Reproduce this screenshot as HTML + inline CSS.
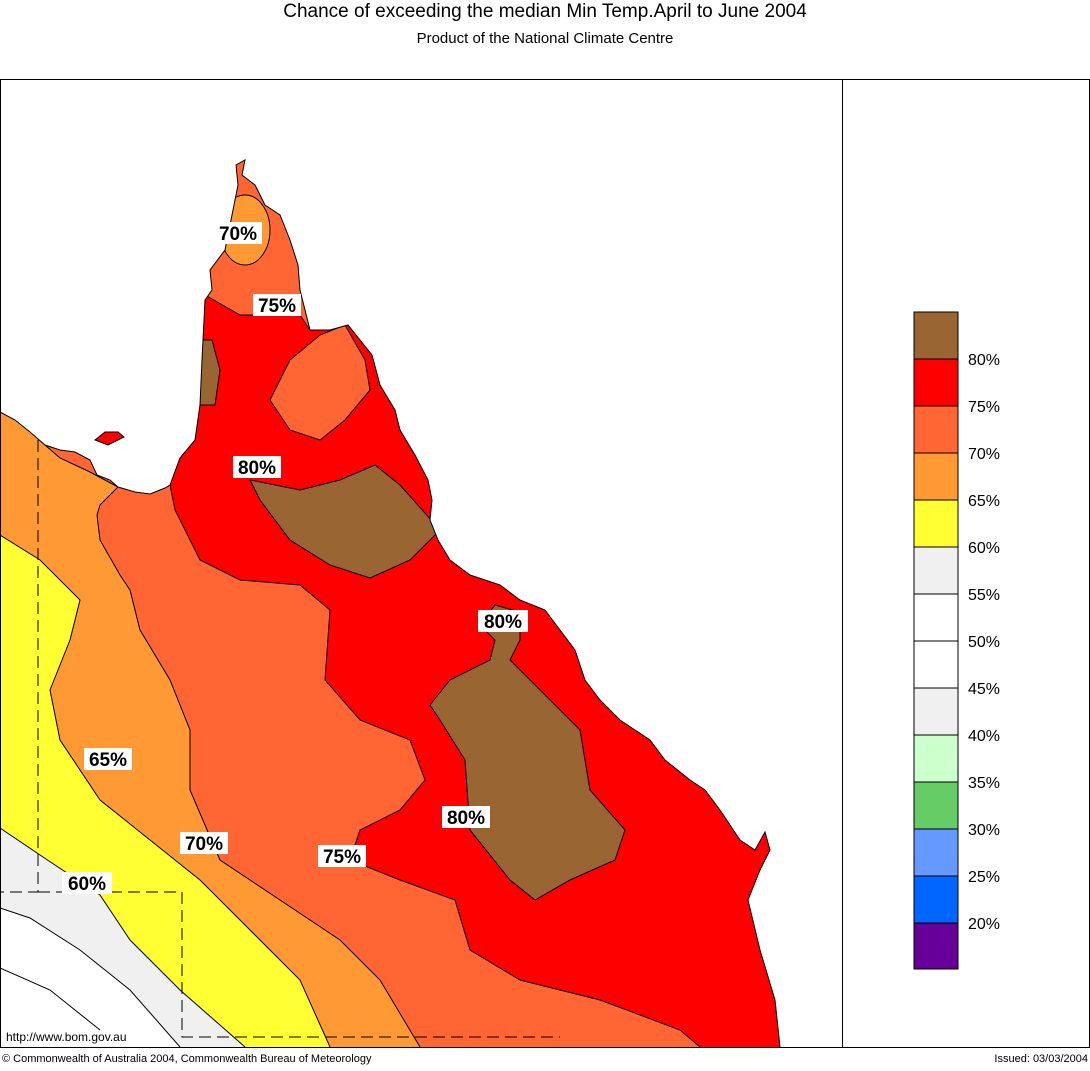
<!DOCTYPE html>
<html><head><meta charset="utf-8"><style>
body{margin:0;background:#fff;width:1090px;height:1066px;overflow:hidden;font-family:"Liberation Sans",sans-serif}
</style></head><body>
<svg width="1090" height="1066" xmlns="http://www.w3.org/2000/svg" font-family="Liberation Sans, sans-serif">
<text x="545" y="17" font-size="19" text-anchor="middle">Chance of exceeding the median Min Temp.April to June 2004</text>
<text x="545" y="43" font-size="15" text-anchor="middle">Product of the National Climate Centre</text>
<defs><clipPath id="land"><polygon points="0,412 15,420 30,432 45,445 60,450 75,452 90,460 97,475 110,480 118,487 135,492 150,494 165,488 170,485 180,458 195,440 200,405 202,360 205,300 212,290 210,270 225,250 232,215 238,185 236,165 245,160 242,175 255,185 265,205 280,215 290,240 298,265 300,290 305,310 310,330 330,330 348,325 360,340 372,355 380,385 395,410 400,430 415,455 428,480 432,500 430,520 438,540 450,560 470,575 500,585 520,600 545,610 560,630 575,650 585,680 600,700 620,720 650,740 665,760 690,780 705,790 720,810 740,840 755,850 765,832 770,850 760,870 748,900 760,950 775,1000 780,1047 0,1047"/></clipPath></defs>
<g clip-path="url(#land)" stroke="#000" stroke-width="1">
<rect x="0" y="100" width="842" height="960" fill="#ff0000" stroke="none"/>
<polygon stroke="none" fill="#ff6633" points="160,470 170,485 175,510 200,560 240,580 300,585 330,610 325,680 360,720 410,740 425,780 400,810 360,830 350,860 400,880 455,900 470,950 520,980 600,1000 680,1030 700,1047 0,1047 0,400"/>
<polygon stroke="none" fill="#ff9933" points="0,400 45,445 60,458 90,472 118,487 100,505 97,515 100,540 120,575 130,590 140,630 170,680 190,730 190,790 220,860 280,900 340,940 380,980 420,1047 0,1047"/>
<polygon stroke="none" fill="#ffff33" points="0,535 40,560 80,600 70,640 50,690 60,740 100,800 150,840 200,880 250,930 300,980 330,1047 0,1047"/>
<polygon stroke="none" fill="#f0f0f0" points="0,828 40,855 100,895 130,940 180,990 245,1047 0,1047"/>
<polygon stroke="none" fill="#fff" points="0,908 30,918 80,950 130,990 180,1047 0,1047"/>
<polyline fill="none" points="170,485 175,510 200,560 240,580 300,585 330,610 325,680 360,720 410,740 425,780 400,810 360,830 350,860 400,880 455,900 470,950 520,980 600,1000 680,1030 700,1047"/>
<polyline fill="none" points="45,445 60,458 90,472 118,487 100,505 97,515 100,540 120,575 130,590 140,630 170,680 190,730 190,790 220,860 280,900 340,940 380,980 420,1047"/>
<polyline fill="none" points="0,535 40,560 80,600 70,640 50,690 60,740 100,800 150,840 200,880 250,930 300,980 330,1047"/>
<polyline fill="none" points="0,828 40,855 100,895 130,940 180,990 245,1047"/>
<polyline fill="none" points="0,908 30,918 80,950 130,990 180,1047"/>
<polyline fill="none" points="0,968 50,990 100,1030"/>
<polygon fill="#ff6633" points="150,100 400,100 400,200 310,330 300,315 240,315 205,295 150,290"/>
<ellipse cx="245" cy="230" rx="25" ry="35" fill="#ff9933"/>
<polygon fill="#ff6633" points="270,400 290,360 320,335 345,325 365,360 370,390 345,420 320,440 290,430"/>
<polygon fill="#996633" points="190,340 212,340 220,370 215,405 190,405"/>
<polygon fill="#996633" points="250,480 300,490 340,480 375,465 400,485 440,530 410,560 370,578 330,565 290,540 260,500"/>
<polygon fill="#996633" points="495,605 520,612 520,640 510,660 540,690 580,730 590,790 625,830 615,860 570,880 535,900 510,880 470,830 465,760 440,720 430,705 450,680 490,660 495,640 480,625"/>
</g>
<polygon fill="#ff0000" stroke="#000" points="95,440 105,432 118,432 124,437 108,445"/>
<polyline fill="none" stroke="#000" points="0,412 15,420 30,432 45,445 60,450 75,452 90,460 97,475 110,480 118,487 135,492 150,494 165,488 170,485 180,458 195,440 200,405 202,360 205,300 212,290 210,270 225,250 232,215 238,185 236,165 245,160 242,175 255,185 265,205 280,215 290,240 298,265 300,290 305,310 310,330 330,330 348,325 360,340 372,355 380,385 395,410 400,430 415,455 428,480 432,500 430,520 438,540 450,560 470,575 500,585 520,600 545,610 560,630 575,650 585,680 600,700 620,720 650,740 665,760 690,780 705,790 720,810 740,840 755,850 765,832 770,850 760,870 748,900 760,950 775,1000 780,1047"/>
<g stroke="#000" stroke-dasharray="12,6" fill="none">
<polyline points="38,440 38,892 0,892"/><polyline points="38,892 182,892 182,1037 560,1037"/>
</g>
<rect x="0.5" y="79.5" width="1089" height="968" fill="none" stroke="#000"/>
<line x1="842.5" y1="79" x2="842.5" y2="1047" stroke="#000"/>
<g font-size="19" text-anchor="middle" font-weight="bold">
<rect x="214" y="222" width="48" height="22" fill="#fff"/><text x="238" y="240">70%</text>
<rect x="253" y="294" width="48" height="22" fill="#fff"/><text x="277" y="312">75%</text>
<rect x="233" y="456" width="48" height="22" fill="#fff"/><text x="257" y="474">80%</text>
<rect x="478" y="610" width="50" height="22" fill="#fff"/><text x="503" y="628">80%</text>
<rect x="84" y="748" width="48" height="22" fill="#fff"/><text x="108" y="766">65%</text>
<rect x="442" y="806" width="48" height="22" fill="#fff"/><text x="466" y="824">80%</text>
<rect x="180" y="832" width="48" height="22" fill="#fff"/><text x="204" y="850">70%</text>
<rect x="318" y="845" width="48" height="22" fill="#fff"/><text x="342" y="863">75%</text>
<rect x="62" y="872" width="50" height="22" fill="#fff"/><text x="87" y="890">60%</text>
</g>
<text x="6" y="1041" font-size="12">http://www.bom.gov.au</text>
<text x="2" y="1062" font-size="11">© Commonwealth of Australia 2004, Commonwealth Bureau of Meteorology</text>
<text x="1088" y="1062" font-size="11" text-anchor="end">Issued: 03/03/2004</text>
<g stroke="#000" stroke-width="1">
<rect x="914" y="312" width="44" height="47" fill="#996633"/>
<rect x="914" y="359" width="44" height="47" fill="#ff0000"/>
<rect x="914" y="406" width="44" height="47" fill="#ff6633"/>
<rect x="914" y="453" width="44" height="47" fill="#ff9933"/>
<rect x="914" y="500" width="44" height="47" fill="#ffff33"/>
<rect x="914" y="547" width="44" height="47" fill="#f0f0f0"/>
<rect x="914" y="594" width="44" height="47" fill="#fff"/>
<rect x="914" y="641" width="44" height="47" fill="#fff"/>
<rect x="914" y="688" width="44" height="47" fill="#f0f0f0"/>
<rect x="914" y="735" width="44" height="47" fill="#ccffcc"/>
<rect x="914" y="782" width="44" height="47" fill="#66cc66"/>
<rect x="914" y="829" width="44" height="47" fill="#6699ff"/>
<rect x="914" y="876" width="44" height="47" fill="#0066ff"/>
<rect x="914" y="923" width="44" height="46" fill="#660099"/>
</g>
<g font-size="16">
<text x="968" y="365">80%</text><text x="968" y="412">75%</text><text x="968" y="459">70%</text><text x="968" y="506">65%</text><text x="968" y="553">60%</text><text x="968" y="600">55%</text><text x="968" y="647">50%</text><text x="968" y="694">45%</text><text x="968" y="741">40%</text><text x="968" y="788">35%</text><text x="968" y="835">30%</text><text x="968" y="882">25%</text><text x="968" y="929">20%</text>
</g>
</svg>
</body></html>
